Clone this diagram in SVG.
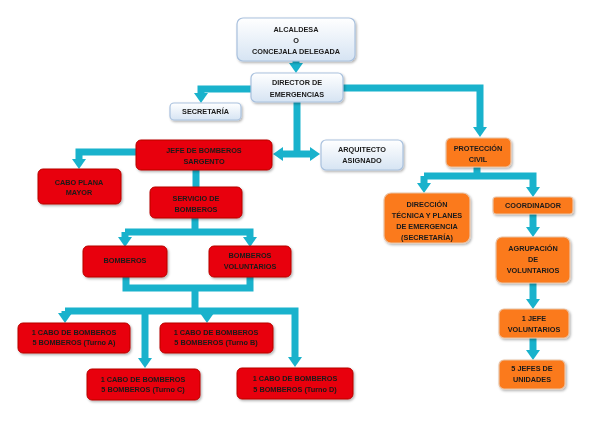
<svg xmlns="http://www.w3.org/2000/svg" width="589" height="421" viewBox="0 0 589 421">
<style>
text{font-family:"Liberation Sans",Arial,sans-serif;font-weight:bold;font-size:7.3px;fill:#1a1a1a;text-anchor:middle}
.lt{fill:url(#gl);stroke:#a9c1de;stroke-width:1.2}
.rd{fill:#e8000a;stroke:#b80000;stroke-width:1}
.or{fill:#fb7a1c;stroke:#e9c3a6;stroke-width:1.2}
.c{fill:none;stroke:#19b2cc;stroke-width:7;stroke-linejoin:miter}
.ca{fill:none;stroke:#19b2cc;stroke-width:7;marker-end:url(#ah)}
.cb{fill:none;stroke:#19b2cc;stroke-width:7;marker-end:url(#ah);marker-start:url(#ahs)}
.box{filter:url(#sh)}
</style>
<defs>
<linearGradient id="gl" x1="0" y1="0" x2="0" y2="1">
<stop offset="0" stop-color="#ffffff"/>
<stop offset="1" stop-color="#d6e4f3"/>
</linearGradient>
<filter id="sh" x="-10%" y="-10%" width="130%" height="140%">
<feDropShadow dx="1.2" dy="1.5" stdDeviation="1" flood-color="#000" flood-opacity="0.3"/>
</filter>
<marker id="ah" viewBox="0 0 10 14" refX="1" refY="7" markerWidth="10" markerHeight="14" orient="auto" markerUnits="userSpaceOnUse">
<path d="M0,0 L10,7 L0,14 z" fill="#19b2cc"/>
</marker>
<marker id="ahs" viewBox="0 0 10 14" refX="9" refY="7" markerWidth="10" markerHeight="14" orient="auto" markerUnits="userSpaceOnUse">
<path d="M10,0 L0,7 L10,14 z" fill="#19b2cc"/>
</marker>
</defs>

<g id="connectors">
<path class="ca" d="M296,61 V64"/>
<path class="ca" d="M251,89 H201 V94"/>
<path class="ca" d="M343,88 H480 V128"/>
<path class="c" d="M297,102 V154"/>
<path class="cb" d="M282,154 H311"/>
<path class="ca" d="M136,152 H79 V160"/>
<path class="c" d="M196,170 V187"/>
<path class="c" d="M195,218 V232"/>
<path class="ca" d="M125,232 H250 V238"/>
<path class="ca" d="M125,232 V238"/>
<path class="c" d="M126,277 V288 H250 V277"/>
<path class="c" d="M195,288 V311"/>
<path class="ca" d="M65,311 H295 V358"/>
<path class="ca" d="M65,311 V314"/>
<path class="ca" d="M145,311 V359"/>
<path class="ca" d="M207,311 V314"/>
<path class="c" d="M477,167 V176"/>
<path class="ca" d="M424,176 H533 V188"/>
<path class="ca" d="M424,176 V184"/>
<path class="ca" d="M533,214 V228"/>
<path class="ca" d="M533,283 V300"/>
<path class="ca" d="M533,338 V351"/>
</g>

<g id="alcaldesa" class="box">
<rect class="lt" x="237" y="18" width="118" height="43" rx="6"/>
<text x="296" y="31.6">ALCALDESA</text>
<text x="296" y="42.8">O</text>
<text x="296" y="54.3">CONCEJALA DELEGADA</text>
</g>
<g id="director" class="box">
<rect class="lt" x="251" y="73" width="92" height="29" rx="5"/>
<text x="297" y="85.3">DIRECTOR DE</text>
<text x="297" y="96.6">EMERGENCIAS</text>
</g>
<g id="secretaria" class="box">
<rect class="lt" x="170" y="103" width="71" height="17" rx="4"/>
<text x="205.5" y="114.3">SECRETARÍA</text>
</g>
<g id="jefe" class="box">
<rect class="rd" x="136" y="140" width="136" height="30" rx="5"/>
<text x="204" y="152.6">JEFE DE BOMBEROS</text>
<text x="204" y="163.6">SARGENTO</text>
</g>
<g id="arquitecto" class="box">
<rect class="lt" x="321" y="140" width="82" height="30" rx="5"/>
<text x="362" y="152">ARQUITECTO</text>
<text x="362" y="162.8">ASIGNADO</text>
</g>
<g id="cabo-plana" class="box">
<rect class="rd" x="38" y="169" width="83" height="35" rx="5"/>
<text x="79" y="184.9">CABO PLANA</text>
<text x="79" y="195">MAYOR</text>
</g>
<g id="servicio" class="box">
<rect class="rd" x="150" y="187" width="92" height="31" rx="5"/>
<text x="196" y="201">SERVICIO DE</text>
<text x="196" y="211.7">BOMBEROS</text>
</g>
<g id="bomberos" class="box">
<rect class="rd" x="83" y="246" width="84" height="31" rx="5"/>
<text x="125" y="262.6">BOMBEROS</text>
</g>
<g id="bomberos-voluntarios" class="box">
<rect class="rd" x="209" y="246" width="82" height="31" rx="5"/>
<text x="250" y="258.3">BOMBEROS</text>
<text x="250" y="268.7">VOLUNTARIOS</text>
</g>
<g id="turno-a" class="box">
<rect class="rd" x="18" y="323" width="112" height="30" rx="5"/>
<text x="74" y="335.3">1 CABO DE BOMBEROS</text>
<text x="74" y="345.3">5 BOMBEROS (Turno A)</text>
</g>
<g id="turno-b" class="box">
<rect class="rd" x="160" y="323" width="113" height="30" rx="5"/>
<text x="216" y="335.3">1 CABO DE BOMBEROS</text>
<text x="216" y="345.3">5 BOMBEROS (Turno B)</text>
</g>
<g id="turno-c" class="box">
<rect class="rd" x="87" y="369" width="113" height="31" rx="5"/>
<text x="143" y="381.9">1 CABO DE BOMBEROS</text>
<text x="143" y="391.6">5 BOMBEROS (Turno C)</text>
</g>
<g id="turno-d" class="box">
<rect class="rd" x="237" y="368" width="116" height="31" rx="5"/>
<text x="295" y="380.9">1 CABO DE BOMBEROS</text>
<text x="295" y="391.9">5 BOMBEROS (Turno D)</text>
</g>
<g id="proteccion-civil" class="box">
<rect class="or" x="446" y="138" width="65" height="29" rx="5"/>
<text x="478" y="150.9">PROTECCIÓN</text>
<text x="478" y="161.6">CIVIL</text>
</g>
<g id="direccion-tecnica" class="box">
<rect class="or" x="384" y="193" width="86" height="50" rx="7"/>
<text x="427" y="206.9">DIRECCIÓN</text>
<text x="427" y="217.6">TÉCNICA Y PLANES</text>
<text x="427" y="229.3">DE EMERGENCIA</text>
<text x="427" y="239.9">(SECRETARÍA)</text>
</g>
<g id="coordinador" class="box">
<rect class="or" x="493" y="197" width="80" height="17" rx="3"/>
<text x="533" y="207.9">COORDINADOR</text>
</g>
<g id="agrupacion" class="box">
<rect class="or" x="496" y="237" width="74" height="46" rx="6"/>
<text x="533" y="250.9">AGRUPACIÓN</text>
<text x="533" y="261.9">DE</text>
<text x="533" y="272.6">VOLUNTARIOS</text>
</g>
<g id="jefe-voluntarios" class="box">
<rect class="or" x="499" y="309" width="70" height="29" rx="5"/>
<text x="534" y="320.9">1 JEFE</text>
<text x="534" y="331.9">VOLUNTARIOS</text>
</g>
<g id="jefes-unidades" class="box">
<rect class="or" x="499" y="360" width="66" height="29" rx="5"/>
<text x="532" y="370.9">5 JEFES DE</text>
<text x="532" y="381.9">UNIDADES</text>
</g>
</svg>
